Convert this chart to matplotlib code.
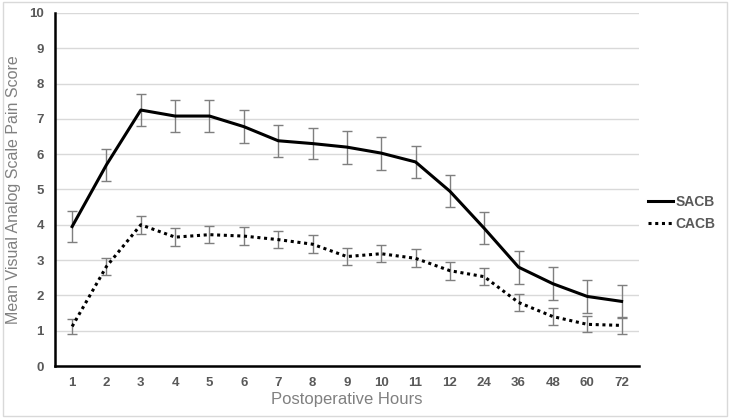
import numpy as np
import matplotlib
matplotlib.use("Agg")
from matplotlib import pyplot as plt
from matplotlib.patches import Rectangle

plt.rcParams['font.family'] = ['Liberation Sans', 'DejaVu Sans']

hours = ['1', '2', '3', '4', '5', '6', '7', '8', '9', '10', '11', '12', '24', '36', '48', '60', '72']
sacb = [3.95, 5.7, 7.25, 7.08, 7.08, 6.78, 6.38, 6.3, 6.2, 6.03, 5.78, 4.95, 3.9, 2.8, 2.33, 1.97, 1.83]
sacb_err = [0.45, 0.45, 0.45, 0.45, 0.46, 0.46, 0.45, 0.45, 0.47, 0.47, 0.45, 0.45, 0.45, 0.47, 0.47, 0.47, 0.47]
cacb = [1.12, 2.82, 4.0, 3.65, 3.72, 3.68, 3.58, 3.45, 3.1, 3.18, 3.05, 2.7, 2.53, 1.8, 1.4, 1.18, 1.15]
cacb_err = [0.22, 0.25, 0.25, 0.25, 0.24, 0.25, 0.24, 0.25, 0.25, 0.24, 0.25, 0.25, 0.24, 0.24, 0.24, 0.23, 0.24]

x = np.arange(len(hours))
gray = '#595959'

fig = plt.figure(figsize=(7.3, 4.18), dpi=100)
ax = fig.add_axes([0.0753, 0.1244, 0.7997, 0.8446])

ax.errorbar(x, sacb, yerr=sacb_err, color='black', lw=2.2, ecolor='#7f7f7f',
            elinewidth=1.0, capsize=3.5, capthick=1.0, label='SACB', zorder=3)
ax.errorbar(x, cacb, yerr=cacb_err, color='black', lw=2.2, ls=(0, (1, 1.2)),
            dash_capstyle='butt', ecolor='#7f7f7f', elinewidth=1.0, capsize=3.5,
            capthick=1.0, label='CACB', zorder=3)

ax.set_xlim(-0.5, len(hours) - 0.5)
ax.set_ylim(0, 10)
ax.set_yticks(range(0, 11))
ax.set_xticks(x)
ax.set_xticklabels(hours)
ax.grid(axis='y', color='#d9d9d9', lw=1.0)
ax.set_axisbelow(True)
for s in ['top', 'right']:
    ax.spines[s].set_visible(False)
ax.spines['left'].set_linewidth(1.8)
ax.spines['bottom'].set_linewidth(1.8)
ax.tick_params(length=0, labelsize=9.5, labelcolor=gray, pad=8)
for t in ax.get_xticklabels() + ax.get_yticklabels():
    t.set_fontweight('bold')

ax.set_xlabel('Postoperative Hours', fontsize=12, color='#808080', labelpad=2)
ax.set_ylabel('Mean Visual Analog Scale Pain Score', fontsize=11.5, color='#808080', labelpad=6)

handles, labels = ax.get_legend_handles_labels()
leg = fig.legend([h[0] for h in handles], labels, loc='center left',
                 bbox_to_anchor=(0.888, 0.49), frameon=False, handlelength=1.8,
                 handletextpad=0.15, labelspacing=0.6, borderpad=0, borderaxespad=0,
                 prop={'size': 10, 'weight': 'bold'})
for t in leg.get_texts():
    t.set_color(gray)

fig.patches.append(Rectangle((0.004, 0.004), 0.992, 0.992, transform=fig.transFigure,
                             fill=False, ec='#d9d9d9', lw=1.0))

fig.savefig('out.png', dpi=100)
